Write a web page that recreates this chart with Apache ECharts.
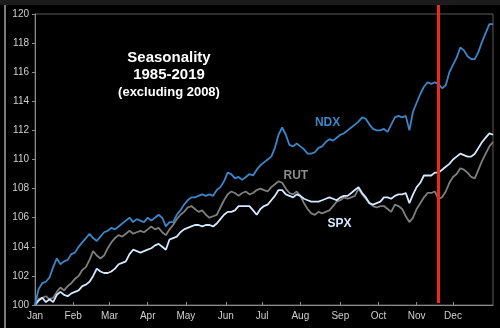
<!DOCTYPE html>
<html>
<head>
<meta charset="utf-8">
<script src="https://cdn.jsdelivr.net/npm/echarts@6/dist/echarts.min.js"></script>
<style>
  html, body { margin: 0; padding: 0; background: #000; }
  #chart { width: 500px; height: 328px; }
</style>
</head>
<body>
<div id="chart"></div>
<script>
// Average seasonal path, indexed to 100 on the first trading day, one value every 2 trading days
const DAY_STEP = 2;

const ndx = [
  100.0, 101.1, 101.5, 101.6, 101.9, 102.6, 103.2, 102.8, 103.0, 103.1,
  103.5, 103.6, 104.0, 104.3, 104.6, 104.9, 104.6, 104.4, 104.7, 105.0,
  105.1, 105.3, 105.2, 105.4, 105.6, 105.8, 106.0, 105.7, 105.9, 105.8,
  105.7, 106.0, 105.8, 106.0, 106.2, 106.0, 105.4, 105.7, 105.7, 106.2,
  106.5, 106.9, 107.2, 107.4, 107.4, 107.5, 107.6, 107.5, 107.6, 107.5,
  107.9, 108.1, 108.5, 109.1, 109.0, 108.7, 108.8, 108.6, 108.8, 109.0,
  108.9, 109.3, 109.6, 109.8, 110.0, 110.2, 110.8, 111.7, 112.2, 111.7,
  111.0, 110.9, 111.1, 110.9, 110.7, 110.4, 110.4, 110.5, 110.8, 110.9,
  111.2, 111.4, 111.3, 111.5, 111.7, 111.8, 112.0, 112.2, 112.4, 112.6,
  112.9, 112.8, 112.4, 112.1, 112.0, 112.0, 112.1, 111.9, 112.4, 112.9,
  113.0, 112.9, 113.0, 112.0, 113.3, 113.9, 114.5, 115.0, 115.3, 115.2,
  115.3, 115.2, 114.9, 115.1, 116.0, 116.5, 117.0, 117.7, 117.5, 117.1,
  116.9, 116.9, 117.4, 118.1, 118.7, 119.3, 119.3
];

const rut = [
  100.0, 100.4, 100.5, 100.6, 100.4, 100.5, 100.9, 101.2, 101.0, 101.3,
  101.5, 101.8, 102.0, 102.4, 102.6, 103.1, 103.7, 103.4, 103.2, 103.4,
  103.9, 104.3, 104.6, 104.8, 104.7, 104.9, 105.1, 104.9, 105.0, 105.1,
  105.0, 105.2, 105.4, 105.2, 105.3, 105.0, 104.8, 105.2, 105.5, 105.9,
  106.2, 106.4, 106.7, 106.8, 106.6, 106.4, 106.5, 106.2, 106.0, 106.1,
  106.2, 106.7, 107.2, 107.6, 107.8, 107.7, 107.5, 107.7, 107.8, 107.6,
  107.7, 107.9, 108.0, 107.9, 107.8, 108.1, 108.3, 108.5, 108.4, 108.0,
  107.7, 107.6, 107.8, 107.5, 107.0, 106.6, 106.3, 106.2, 106.4, 106.3,
  106.4, 106.5, 106.8, 107.1, 107.2, 107.4, 107.3, 107.4, 107.5, 108.0,
  107.6, 107.3, 107.0, 106.8, 106.7, 106.8, 106.8, 106.6, 106.4, 106.9,
  106.8, 106.6, 106.1, 105.7, 106.0, 106.6, 107.0, 107.4, 107.7, 107.7,
  107.8, 107.3, 107.4, 107.8, 108.4, 108.8, 109.0, 109.4, 109.3, 109.1,
  108.8, 108.7, 109.3, 109.9, 110.4, 110.9, 111.2
];

const spx = [
  100.0, 100.3, 100.5, 100.2, 100.4, 100.2, 100.7, 100.9, 100.7, 100.6,
  100.8, 100.9, 101.0, 101.3, 101.4, 101.6, 102.0, 102.5, 102.3, 102.2,
  102.2, 102.3, 102.5, 102.8, 102.9, 103.0, 103.5, 103.8, 103.7, 103.6,
  103.7, 103.8, 103.9, 104.1, 104.2, 104.0, 103.8, 104.5, 104.6, 104.7,
  105.0, 105.2, 105.3, 105.4, 105.5, 105.5, 105.4, 105.5, 105.5, 105.4,
  105.6, 105.9, 106.2, 106.4, 106.4, 106.5, 106.8, 106.8, 106.8, 106.8,
  106.5, 106.2, 106.6, 106.8, 106.9, 107.2, 107.5, 107.9, 107.9, 107.6,
  107.5, 107.4, 107.6, 107.5, 107.3, 107.2, 107.1, 107.1, 107.1, 107.2,
  107.3, 107.4, 107.3, 107.2, 107.4, 107.5, 107.5, 107.7, 107.9, 108.1,
  107.7, 107.4, 107.0, 106.9, 107.0, 107.1, 107.4, 107.4, 107.3, 107.5,
  107.6, 107.6, 107.7, 107.0, 107.6, 108.1, 108.4, 108.9, 108.9, 108.9,
  109.1, 109.1, 109.3, 109.5, 109.7, 110.0, 110.2, 110.4, 110.3, 110.2,
  110.2, 110.4, 110.8, 111.2, 111.5, 111.8, 111.7
];

// Month labels and the trading day on which each month begins
const months = ['Jan', 'Feb', 'Mar', 'Apr', 'May', 'Jun', 'Jul', 'Aug', 'Sep', 'Oct', 'Nov', 'Dec'];
const monthStartDays = [0, 21, 41, 62, 83, 105, 125, 146, 168, 189, 210, 230];
const yearDays = 252;

// Y axis scale
const yMin = 100, yMax = 120, yStep = 2;

// Marker for the current date
const cutoffDay = 222;

// Series name labels placed in data space: [trading day, value]
const seriesLabels = [
  { name: 'NDX', at: [161, 112.5], color: '#3a86c8' },
  { name: 'RUT', at: [143.5, 108.9], color: '#8c8c8c' },
  { name: 'SPX', at: [167.5, 105.6], color: '#d4e9ff' }
];

const toPairs = arr => arr.map((v, i) => [i * DAY_STEP, v]);

const chart = echarts.init(document.getElementById('chart'), null, { renderer: 'canvas' });

const font = '"Liberation Sans", Arial, sans-serif';

chart.setOption({
  backgroundColor: '#000',
  animation: false,
  grid: {
    left: 35, right: 7, top: 14, bottom: 23,
    show: true, borderColor: '#5c5c5c', borderWidth: 1, backgroundColor: 'transparent'
  },
  xAxis: {
    type: 'value',
    min: 0, max: yearDays,
    axisLine: { show: true, lineStyle: { color: '#8a8a8a', width: 1 } },
    axisTick: { show: true, inside: true, length: 3, customValues: monthStartDays, lineStyle: { color: '#8a8a8a' } },
    splitLine: { show: false },
    axisLabel: {
      customValues: monthStartDays,
      formatter: v => months[monthStartDays.indexOf(v)] || '',
      color: '#cfcfcf', fontSize: 10, fontFamily: font, margin: 6
    }
  },
  yAxis: {
    type: 'value',
    min: yMin, max: yMax, interval: yStep,
    axisLine: { show: true, lineStyle: { color: '#8a8a8a', width: 1 } },
    axisTick: { show: true, inside: false, length: 3, lineStyle: { color: '#8a8a8a' } },
    splitLine: { show: false },
    axisLabel: { color: '#cfcfcf', fontSize: 10, fontFamily: font, margin: 6 }
  },
  series: [
    { name: 'RUT', type: 'line', data: toPairs(rut), showSymbol: false, lineStyle: { color: '#7e7e7e', width: 1.8 }, z: 2 },
    { name: 'SPX', type: 'line', data: toPairs(spx), showSymbol: false, lineStyle: { color: '#d4e9ff', width: 1.8 }, z: 3 },
    { name: 'NDX', type: 'line', data: toPairs(ndx), showSymbol: false, lineStyle: { color: '#3a86c8', width: 1.8 }, z: 4 }
  ]
});

// Overlay: frame edges, title block, series names and the red cutoff line
const cutoffX = chart.convertToPixel({ xAxisIndex: 0 }, cutoffDay);
const graphics = [
  { type: 'rect', shape: { x: 0, y: 0, width: 500, height: 5 }, style: { fill: '#1c1c1c' }, z: 1 },
  { type: 'line', shape: { x1: 5, y1: 5, x2: 5, y2: 328 }, style: { stroke: '#7a7a7a', lineWidth: 2 }, z: 1 },
  { type: 'text', x: 169, y: 58, style: { text: 'Seasonality', fill: '#ffffff', font: 'bold 15px ' + font, textAlign: 'center', textVerticalAlign: 'middle' }, z: 10 },
  { type: 'text', x: 169, y: 75, style: { text: '1985-2019', fill: '#ffffff', font: 'bold 15px ' + font, textAlign: 'center', textVerticalAlign: 'middle' }, z: 10 },
  { type: 'text', x: 169, y: 92, style: { text: '(excluding 2008)', fill: '#ffffff', font: 'bold 13px ' + font, textAlign: 'center', textVerticalAlign: 'middle' }, z: 10 },
  { type: 'line', shape: { x1: cutoffX, y1: 5, x2: cutoffX, y2: 303 }, style: { stroke: '#ee2a1e', lineWidth: 3 }, z: 20 }
];
seriesLabels.forEach(l => {
  const p = chart.convertToPixel({ gridIndex: 0 }, l.at);
  graphics.push({
    type: 'text', x: p[0], y: p[1],
    style: { text: l.name, fill: l.color, font: 'bold 12px ' + font, textAlign: 'center', textVerticalAlign: 'middle' },
    z: 10
  });
});
chart.setOption({ graphic: graphics });
</script>
</body>
</html>
